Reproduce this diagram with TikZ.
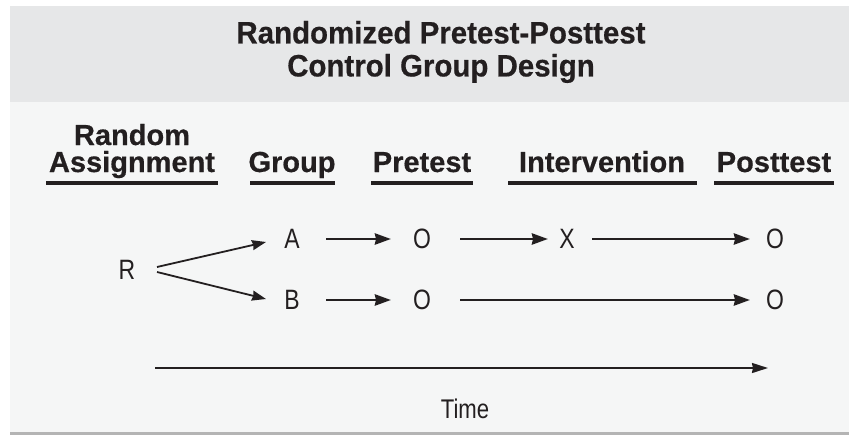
\documentclass[tikz,border=0pt]{standalone}
\usepackage{fontspec}
\setmainfont{Liberation Sans}[FakeStretch=0.82]
\newfontfamily\titlefont{Liberation Sans}[FakeStretch=0.95, BoldFeatures={FakeBold=0.5}]
\newfontfamily\headfont{Liberation Sans}[FakeStretch=1.0, BoldFeatures={FakeBold=0.5}]
\usetikzlibrary{arrows.meta,calc}
\definecolor{headgray}{HTML}{E6E7E8}
\definecolor{bodygray}{HTML}{F5F6F6}
\definecolor{rulegray}{HTML}{B4B4B4}
\definecolor{ink}{HTML}{231F20}
\begin{document}
\begin{tikzpicture}[x=1pt,y=-1pt,
  title/.style={font=\titlefont\bfseries\fontsize{31}{33}\selectfont, text=ink, align=center, inner sep=0pt},
  colhead/.style={font=\headfont\bfseries\fontsize{29}{30}\selectfont, text=ink, align=center, inner sep=0pt, anchor=base},
  uline/.style={draw=ink, line width=3.2pt},
  sym/.style={font=\fontsize{28}{30}\selectfont, text=ink, inner sep=0pt},
  arr/.style={draw=ink, line width=2.9pt, -{Stealth[length=16pt,width=11pt,inset=1pt]}},
  splitarr/.style={draw=ink, line width=1.8pt, -{Stealth[length=14pt,width=10pt,inset=1pt]}},
  tarr/.style={draw=ink, line width=1.8pt, -{Stealth[length=16pt,width=10pt,inset=1pt]}}]
  % canvas and panels
  \useasboundingbox (0,0) rectangle (849,436);
  \fill[white] (0,0) rectangle (849,436);
  \fill[headgray] (10,6) rectangle (849,102);
  \fill[bodygray] (10,102) rectangle (849,432);
  \fill[rulegray] (10,432) rectangle (849,435);

  % title
  \node[title] (ttl) at (441,52) {Randomized Pretest-Posttest\\Control Group Design};

  % column headings
  \node[colhead] (hra) at (132,145) {Random};
  \node[colhead] (has) at (132,172) {Assignment};
  \node[colhead] (hgr) at (292,172) {Group};
  \node[colhead] (hpr) at (422,172) {Pretest};
  \node[colhead] (hin) at (602,172) {Intervention};
  \node[colhead] (hpo) at (774,172) {Posttest};
  \draw[uline] (46,183) -- (218,183);
  \draw[uline] (250,183) -- (335,183);
  \draw[uline] (371,183) -- (473,183);
  \draw[uline] (508,183) -- (697,183);
  \draw[uline] (714,183) -- (834,183);

  % design symbols
  \node[sym] (r)  at (127,270) {R};
  \node[sym] (a)  at (292,239) {A};
  \node[sym] (o1) at (422,239) {O};
  \node[sym] (x)  at (567,239) {X};
  \node[sym] (o2) at (775,239) {O};
  \node[sym] (b)  at (292,300) {B};
  \node[sym] (o3) at (422,300) {O};
  \node[sym] (o4) at (775,300) {O};

  % flow arrows
  \draw[splitarr] ($(r.center)+(30,-3)$) -- ($(a.center)+(-26,3)$);
  \draw[splitarr] ($(r.center)+(30,2)$) -- ($(b.center)+(-26,-1)$);
  \draw[arr] ($(a.center)+(34,0)$) -- ($(o1.center)+(-31,0)$);
  \draw[arr] ($(o1.center)+(38,0)$) -- ($(x.center)+(-19,0)$);
  \draw[arr] ($(x.center)+(25,0)$) -- ($(o2.center)+(-25,0)$);
  \draw[arr] ($(b.center)+(34,0)$) -- ($(o3.center)+(-31,0)$);
  \draw[arr] ($(o3.center)+(38,0)$) -- ($(o4.center)+(-25,0)$);

  % time axis
  \coordinate (t0) at (155,368);
  \coordinate (t1) at (768,368);
  \draw[tarr] (t0) -- (t1);
  \node[sym, font=\fontsize{27}{30}\selectfont] (tm) at (465,409) {Time};
\end{tikzpicture}
\end{document}
